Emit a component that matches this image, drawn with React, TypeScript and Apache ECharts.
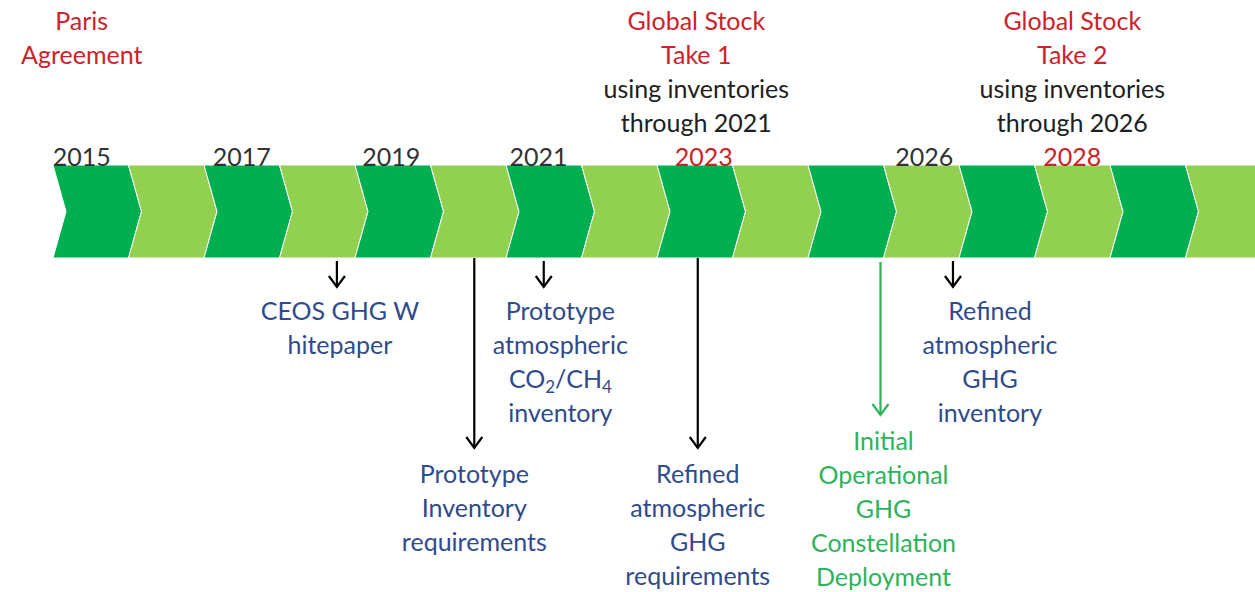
import React, { useEffect, useRef } from "react";
import * as echarts from "echarts";

// ---- data ----
const segmentYears = [2015, 2016, 2017, 2018, 2019, 2020, 2021, 2022, 2023, 2024, 2025, 2026, 2027, 2028, 2029, 2030];
const yearLabels = ["2015", "2017", "2019", "2021", "2023", "2026", "2028"];
const yearLabelAt = [2015.38, 2017.5, 2019.48, 2021.43, 2023.62, 2026.54, 2028.5];
const yearLabelHighlight = [false, false, false, false, true, false, true];

const topNotes = ["Paris\nAgreement", "Global Stock\nTake 1", "Global Stock\nTake 2"];
const topNotesSub = ["", "using inventories\nthrough 2021", "using inventories\nthrough 2026"];
const topNotesAt = [2015.38, 2023.52, 2028.5];

const eventNames = [
  "CEOS GHG W\nhitepaper",
  "Prototype\nInventory\nrequirements",
  "Prototype\natmospheric\nCO2/CH4\ninventory",
  "Refined\natmospheric\nGHG\nrequirements",
  "Initial\nOperational\nGHG\nConstellation\nDeployment",
  "Refined\natmospheric\nGHG\ninventory",
];
const eventAt = [2018.76, 2020.58, 2021.5, 2023.54, 2025.96, 2026.92];
const eventLabelAt = [2018.8, 2020.58, 2021.72, 2023.54, 2026.0, 2027.41];
const eventKind = ["short", "long", "short", "long", "green", "short"];

// ---- layout / style ----
const W = 1255;
const H = 592;
const LEFT = 53;
const PX_PER_YEAR = 75.5;
const BAND_TOP = 165;
const BAND_BOT = 258;
const POINT = 13;
const DARK = "#00B050";
const LIGHT = "#92D050";
const RED = "#CC2229";
const BLUE = "#2F4B8C";
const GREEN_TXT = "#2DB35A";
const TEXT_DARK = "#1E1E1E";
const FONT = "Lato";
const FS = 25;
const LH = 34;

const arrowGeom: Record<string, { y0: number; y1: number; color: string; textTop: number; textColor: string }> = {
  short: { y0: 261, y1: 287, color: "#000", textTop: 293, textColor: BLUE },
  long: { y0: 258, y1: 448, color: "#000", textTop: 456, textColor: BLUE },
  green: { y0: 262, y1: 415, color: GREEN_TXT, textTop: 423, textColor: GREEN_TXT },
};

export default function App() {
  const ref = useRef<HTMLDivElement>(null);
  useEffect(() => {
    if (!ref.current) return;
    const chart = echarts.init(ref.current, undefined, { renderer: "svg" });

    const segData = segmentYears.map((y, i) => [y, i % 2]);
    const yearData = yearLabels.map((t, i) => [yearLabelAt[i], i]);
    const topData = topNotes.map((t, i) => [topNotesAt[i], i]);
    const evData = eventNames.map((t, i) => [eventAt[i], i]);

    const option: any = {
      animation: false,
      backgroundColor: "#fff",
      grid: { left: LEFT, right: 0, top: 0, bottom: 0, containLabel: false },
      xAxis: { type: "value", min: 2015, max: 2015 + (W - LEFT) / PX_PER_YEAR, show: false },
      yAxis: { type: "value", min: 0, max: H, inverse: true, show: false },
      series: [
        {
          type: "custom",
          name: "years",
          data: segData,
          clip: false,
          renderItem: (params: any, api: any) => {
            const yr = api.value(0);
            const x0 = api.coord([yr, 0])[0];
            const x1 = api.coord([yr + 1, 0])[0];
            const top = api.coord([2015, BAND_TOP])[1];
            const bot = api.coord([2015, BAND_BOT])[1];
            const mid = (top + bot) / 2;
            return {
              type: "polygon",
              shape: {
                points: [
                  [x0, top],
                  [x1, top],
                  [x1 + POINT, mid],
                  [x1, bot],
                  [x0, bot],
                  [x0 + POINT, mid],
                ],
              },
              style: { fill: api.value(1) === 0 ? DARK : LIGHT, stroke: "#fff", lineWidth: 1 },
            };
          },
        },
        {
          type: "custom",
          name: "yearLabels",
          data: yearData,
          clip: false,
          renderItem: (params: any, api: any) => {
            const i = api.value(1);
            const p = api.coord([api.value(0), 156]);
            return {
              type: "text",
              x: p[0],
              y: p[1],
              style: {
                text: yearLabels[i],
                fill: yearLabelHighlight[i] ? RED : "#333",
                fontFamily: FONT,
                fontSize: FS,
                align: "center",
                verticalAlign: "middle",
              },
            };
          },
        },
        {
          type: "custom",
          name: "topNotes",
          data: topData,
          clip: false,
          renderItem: (params: any, api: any) => {
            const i = api.value(1);
            const p = api.coord([api.value(0), 3]);
            const children: any[] = [
              {
                type: "text",
                x: p[0],
                y: p[1],
                style: {
                  text: topNotes[i],
                  fill: RED,
                  fontFamily: FONT,
                  fontSize: FS,
                  lineHeight: LH,
                  align: "center",
                  verticalAlign: "top",
                },
              },
            ];
            if (topNotesSub[i]) {
              children.push({
                type: "text",
                x: p[0],
                y: p[1] + 2 * LH,
                style: {
                  text: topNotesSub[i],
                  fill: TEXT_DARK,
                  fontFamily: FONT,
                  fontSize: FS,
                  lineHeight: LH,
                  align: "center",
                  verticalAlign: "top",
                },
              });
            }
            return { type: "group", children };
          },
        },
        {
          type: "custom",
          name: "events",
          data: evData,
          clip: false,
          renderItem: (params: any, api: any) => {
            const i = api.value(1);
            const g = arrowGeom[eventKind[i]];
            const ax = api.coord([api.value(0), 0])[0];
            const y0 = api.coord([2015, g.y0])[1];
            const y1 = api.coord([2015, g.y1])[1];
            const tx = api.coord([eventLabelAt[i], 0])[0];
            const ty = api.coord([2015, g.textTop])[1];
            const name = eventNames[i];
            let textStyle: any;
            if (name.indexOf("CO2/CH4") >= 0) {
              const lines = name.split("\n").map((l) =>
                l === "CO2/CH4" ? "{t|CO}{s|2}{t|/CH}{s|4}" : "{t|" + l + "}"
              );
              textStyle = {
                text: lines.join("\n"),
                fontFamily: FONT,
                fontSize: FS,
                align: "center",
                verticalAlign: "top",
                rich: {
                  t: { fill: g.textColor, fontFamily: FONT, fontSize: FS, lineHeight: LH },
                  s: { fill: g.textColor, fontFamily: FONT, fontSize: 17, lineHeight: 20, verticalAlign: "bottom" },
                },
              };
            } else {
              textStyle = {
                text: name,
                fill: g.textColor,
                fontFamily: FONT,
                fontSize: FS,
                lineHeight: LH,
                align: "center",
                verticalAlign: "top",
              };
            }
            return {
              type: "group",
              children: [
                {
                  type: "line",
                  shape: { x1: ax, y1: y0, x2: ax, y2: y1 },
                  style: { stroke: g.color, lineWidth: 2.2 },
                },
                {
                  type: "polyline",
                  shape: { points: [[ax - 8, y1 - 11], [ax, y1], [ax + 8, y1 - 11]] },
                  style: { stroke: g.color, lineWidth: 2.2, fill: "none" },
                },
                { type: "text", x: tx, y: ty, style: textStyle },
              ],
            };
          },
        },
      ],
    };
    chart.setOption(option);
    return () => chart.dispose();
  }, []);
  return (
    <div
      ref={ref}
      style={{ position: "absolute", left: 0, top: 0, width: W, height: H, background: "#fff" }}
    />
  );
}
